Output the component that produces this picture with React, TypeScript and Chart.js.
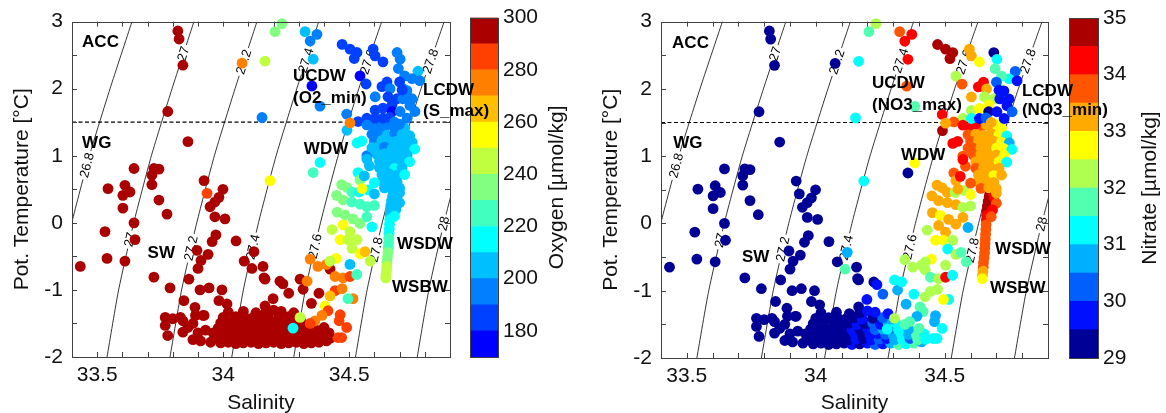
import React, { useEffect, useRef } from "react";
import { Chart, registerables } from "chart.js";
Chart.register(...registerables);

type Pt = [number, number, number, number]; // salinity, pot. temperature, oxygen, nitrate

const FONT = "'Liberation Sans', Arial, Helvetica, sans-serif";
const AXIS_COLOR = "#404040";
const TEXT_COLOR = "#111";

// ---------- data ----------
const surfaceWater: Pt[] = [
  [33.82, 2.86, 295, 29.2], [33.825, 2.74, 295, 29.2], [33.84, 2.35, 295, 29.3], [33.78, 1.66, 295, 29.3], [33.86, 1.21, 295, 29.2],
  [34.075, 2.38, 275, 29.3],
  [33.646, 0.81, 295, 29.2], [33.725, 0.81, 295, 29.2], [33.745, 0.8, 295, 29.2], [33.717, 0.71, 295, 29.2], [33.717, 0.57, 295, 29.2],
  [33.543, 0.51, 295, 29.2], [33.61, 0.56, 295, 29.2], [33.602, 0.41, 295, 29.2], [33.63, 0.46, 295, 29.2], [33.602, 0.22, 295, 29.2],
  [33.745, 0.34, 295, 29.2], [33.777, 0.13, 295, 29.2], [33.646, 0.0, 295, 29.2], [33.531, -0.13, 295, 29.2], [33.65, -0.25, 295, 29.2],
  [33.539, -0.53, 295, 29.2], [33.61, -0.57, 295, 29.2], [33.433, -0.65, 295, 29.2], [33.725, -0.81, 295, 29.2], [33.789, -0.97, 295, 29.2],
];

const winterWater: Pt[] = [
  [33.924, 0.63, 295, 29.3], [33.936, 0.44, 285, 29.3], [33.999, 0.5, 295, 29.3], [33.983, 0.38, 295, 29.3], [33.967, 0.31, 295, 29.3],
  [33.948, 0.24, 295, 29.3], [33.967, 0.09, 295, 29.3], [34.007, 0.06, 295, 29.3], [33.971, -0.18, 295, 29.3], [33.956, -0.28, 295, 29.3],
  [34.051, -0.27, 295, 29.3], [33.896, -0.41, 295, 29.3], [33.94, -0.47, 295, 29.3], [33.912, -0.56, 295, 29.3], [33.9, -0.68, 295, 29.3],
  [33.864, -0.84, 295, 29.3], [34.122, -0.43, 295, 30.7], [34.083, -0.57, 295, 29.3], [34.114, -0.68, 295, 31.8], [34.162, -0.82, 295, 29.3],
  [33.908, -1.0, 295, 29.2], [33.944, -0.97, 295, 29.2], [33.995, -1.0, 295, 29.2], [33.983, -1.16, 295, 29.2], [34.015, -1.21, 295, 29.2],
  [33.844, -1.16, 295, 29.2], [33.888, -1.26, 295, 29.2], [33.924, -1.38, 295, 29.2], [34.166, -1.24, 295, 29.3],
];

const shelfWater: Pt[] = [
  [33.91, -1.76, 295, 29.2], [33.95, -1.78, 295, 29.2], [33.99, -1.79, 295, 29.2], [34.02, -1.78, 295, 29.2], [34.05, -1.8, 295, 29.2],
  [34.08, -1.79, 295, 29.2], [34.11, -1.78, 295, 29.2], [34.14, -1.8, 295, 29.7], [34.17, -1.79, 295, 29.2], [34.2, -1.78, 295, 29.7],
  [34.23, -1.8, 295, 30.2], [34.26, -1.79, 295, 29.7], [34.29, -1.78, 295, 30.7], [34.32, -1.8, 295, 31.8], [34.35, -1.79, 295, 31.2],
  [34.38, -1.78, 295, 31.8], [34.41, -1.76, 295, 30.7],
  [33.97, -1.72, 295, 29.2], [34.0, -1.71, 295, 29.2], [34.035, -1.73, 295, 29.2], [34.065, -1.72, 295, 29.2], [34.095, -1.71, 295, 29.2],
  [34.125, -1.73, 295, 29.2], [34.155, -1.72, 295, 29.7], [34.185, -1.71, 295, 29.2], [34.215, -1.73, 295, 29.7], [34.245, -1.72, 295, 30.2],
  [34.275, -1.71, 295, 29.7], [34.305, -1.73, 295, 30.7], [34.335, -1.72, 295, 31.2], [34.365, -1.71, 295, 30.2], [34.395, -1.73, 295, 31.8],
  [34.425, -1.72, 295, 31.2], [34.455, -1.71, 285, 31.2],
  [33.96, -1.64, 295, 29.2], [34.0, -1.65, 295, 29.2], [34.03, -1.66, 295, 29.2], [34.06, -1.64, 295, 29.2], [34.09, -1.65, 295, 29.2],
  [34.12, -1.66, 295, 29.2], [34.15, -1.64, 295, 29.7], [34.18, -1.65, 295, 29.2], [34.21, -1.66, 295, 29.7], [34.24, -1.64, 295, 29.7],
  [34.27, -1.65, 295, 30.2], [34.3, -1.66, 295, 30.7], [34.33, -1.64, 295, 31.2], [34.36, -1.65, 295, 30.7], [34.39, -1.66, 295, 31.8],
  [34.42, -1.64, 295, 31.2],
  [33.98, -1.57, 295, 29.2], [34.02, -1.56, 295, 29.2], [34.05, -1.58, 295, 29.2], [34.08, -1.57, 295, 29.2], [34.11, -1.56, 295, 29.2],
  [34.14, -1.58, 295, 29.7], [34.17, -1.57, 295, 29.2], [34.2, -1.56, 295, 29.7], [34.23, -1.58, 295, 30.2], [34.26, -1.57, 295, 30.7],
  [34.29, -1.56, 295, 30.2], [34.32, -1.58, 295, 31.2], [34.36, -1.57, 295, 30.7], [34.4, -1.56, 295, 31.8],
  [33.99, -1.49, 295, 29.2], [34.03, -1.48, 295, 29.2], [34.07, -1.5, 295, 29.2], [34.1, -1.49, 295, 29.2], [34.13, -1.48, 295, 29.2],
  [34.16, -1.5, 295, 29.7], [34.19, -1.49, 295, 29.2], [34.22, -1.48, 295, 30.2], [34.25, -1.5, 295, 29.7], [34.28, -1.49, 295, 30.7],
  [34.31, -1.48, 295, 31.2],
  [34.0, -1.41, 295, 29.2], [34.05, -1.4, 295, 29.2], [34.09, -1.42, 295, 29.2], [34.12, -1.41, 295, 29.2], [34.15, -1.4, 295, 29.2],
  [34.18, -1.42, 295, 29.7], [34.22, -1.41, 295, 29.2], [34.26, -1.4, 295, 30.2], [34.3, -1.42, 295, 30.7],
  [34.02, -1.33, 295, 29.2], [34.08, -1.32, 295, 29.2], [34.13, -1.34, 295, 29.2], [34.17, -1.33, 295, 29.2], [34.23, -1.32, 295, 29.7],
  [34.28, -1.34, 295, 29.7],
  [33.77, -1.41, 295, 29.2], [33.8, -1.43, 295, 29.2], [33.77, -1.53, 295, 29.2], [33.78, -1.68, 295, 29.2], [33.84, -1.46, 295, 29.2],
  [33.86, -1.56, 295, 29.2], [33.84, -1.63, 295, 29.2], [33.88, -1.74, 295, 29.2], [33.89, -1.38, 295, 29.2], [33.92, -1.38, 295, 29.2],
  [33.83, -1.41, 295, 29.2], [33.88, -1.5, 295, 29.2], [33.93, -1.6, 295, 29.2], [33.9, -1.64, 295, 29.2],
];

const mixedShelfWater: Pt[] = [
  [34.158, -0.65, 295, 29.2], [34.166, -0.84, 295, 29.2], [34.225, -0.87, 295, 29.2], [34.237, -0.91, 295, 29.7], [34.198, -1.13, 295, 29.7],
  [34.317, -0.99, 295, 30.7], [34.305, -0.84, 295, 31.2], [34.424, -0.69, 295, 32.3], [34.2, -1.3, 295, 29.7], [34.26, -1.05, 295, 30.2],
  [34.35, -1.2, 295, 30.7], [34.38, -1.05, 292, 31.2],
  [34.345, -0.54, 272, 32.3], [34.376, -0.65, 275, 32.3], [34.41, -0.62, 275, 32.3], [34.444, -0.8, 275, 31.8], [34.476, -0.82, 272, 32.3],
  [34.503, -0.8, 282, 34.2], [34.333, -0.87, 272, 31.2], [34.444, -1.01, 285, 32.3], [34.472, -0.98, 275, 32.3], [34.515, -1.13, 275, 31.2],
  [34.495, -1.13, 225, 32.9], [34.424, -1.09, 265, 32.3], [34.404, -1.24, 258, 31.8], [34.416, -1.31, 285, 31.8], [34.392, -1.38, 272, 30.7],
  [34.364, -1.46, 275, 31.8], [34.345, -1.5, 285, 31.8], [34.464, -1.37, 285, 30.7], [34.46, -1.46, 288, 30.7], [34.49, -1.56, 285, 31.2],
  [34.47, -1.71, 285, 31.2], [34.305, -1.41, 245, 32.3], [34.277, -1.57, 215, 31.2],
];

const deepMixing: Pt[] = [
  [34.49, 0.53, 238, 33.2], [34.51, 0.46, 225, 33.2], [34.54, 0.46, 215, 32.3], [34.575, 0.49, 215, 32.3], [34.6, 0.43, 205, 32.8],
  [34.45, 0.41, 238, 33.2], [34.476, 0.34, 238, 33.2], [34.51, 0.31, 225, 33.2], [34.543, 0.28, 225, 33.2], [34.57, 0.24, 225, 32.3],
  [34.6, 0.26, 225, 32.3], [34.452, 0.16, 238, 33.2], [34.483, 0.12, 238, 32.8], [34.515, 0.06, 235, 33.2], [34.543, -0.01, 235, 33.2],
  [34.57, 0.09, 225, 33.2], [34.59, -0.06, 215, 30.7], [34.476, -0.03, 255, 33.2], [34.432, -0.1, 245, 32.3], [34.503, -0.13, 245, 33.2],
  [34.464, -0.25, 255, 32.8], [34.495, -0.25, 247, 32.8], [34.531, -0.25, 247, 32.3], [34.511, -0.38, 247, 31.2], [34.543, -0.46, 258, 32.3],
  [34.563, -0.43, 262, 31.8], [34.583, -0.57, 247, 31.8], [34.503, -0.62, 205, 32.3], [34.448, -0.53, 258, 32.8], [34.424, -0.57, 247, 32.3],
  [34.53, -0.77, 225, 31.2],
  [34.384, 0.9, 215, 32.8], [34.357, 0.75, 225, 29.2], [34.186, 0.63, 258, 31.2], [34.535, 0.75, 218, 33.7], [34.543, 0.64, 235, 33.2],
  [34.47, 0.57, 238, 33.2], [34.551, 0.51, 255, 33.2],
];

const bottomWaterColumn: Pt[] = [
  [34.675, 0.45, 205, 34.6], [34.672, 0.4, 205, 34.6], [34.668, 0.33, 205, 34.7], [34.665, 0.26, 205, 34.7], [34.663, 0.19, 205, 34.6],
  [34.662, 0.12, 208, 34.2], [34.661, 0.05, 212, 34.2], [34.66, -0.02, 215, 33.7], [34.659, -0.09, 215, 33.7], [34.658, -0.16, 218, 33.7],
  [34.657, -0.23, 222, 33.7], [34.656, -0.3, 225, 33.7], [34.655, -0.37, 228, 33.7], [34.654, -0.44, 232, 33.7], [34.652, -0.51, 236, 33.7],
  [34.65, -0.58, 238, 33.7], [34.649, -0.65, 243, 33.7], [34.648, -0.71, 246, 33.2], [34.646, -0.77, 247, 33.2], [34.645, -0.82, 247, 32.8],
  [34.69, 0.4, 205, 34.2], [34.7, 0.3, 205, 33.7], [34.685, 0.2, 205, 34.2], [34.68, 0.1, 210, 33.7], [34.7, 0.45, 205, 33.2],
];

const warmDeepWater: Pt[] = [
  [34.6, 1.42, 195, 34.2], [34.64, 1.43, 195, 33.7], [34.68, 1.42, 195, 33.2], [34.72, 1.41, 200, 32.8],
  [34.59, 1.32, 195, 33.7], [34.62, 1.33, 195, 33.2], [34.65, 1.31, 202, 33.2], [34.68, 1.33, 195, 33.2], [34.71, 1.32, 202, 32.8], [34.74, 1.3, 205, 31.2],
  [34.6, 1.22, 195, 33.7], [34.63, 1.23, 202, 33.2], [34.66, 1.21, 205, 33.2], [34.69, 1.22, 202, 33.2], [34.72, 1.21, 205, 32.8], [34.75, 1.2, 205, 30.7],
  [34.61, 1.12, 202, 33.7], [34.64, 1.13, 195, 33.2], [34.67, 1.11, 205, 33.2], [34.7, 1.12, 205, 32.8], [34.73, 1.11, 205, 32.8], [34.76, 1.1, 210, 31.2],
  [34.61, 1.02, 205, 33.7], [34.64, 1.03, 205, 33.2], [34.67, 1.01, 202, 33.2], [34.7, 1.02, 205, 33.2], [34.73, 1.01, 205, 32.8],
  [34.62, 0.92, 205, 33.2], [34.65, 0.93, 205, 33.2], [34.68, 0.91, 205, 33.2], [34.71, 0.92, 205, 32.8], [34.74, 0.91, 210, 31.2],
  [34.62, 0.82, 205, 33.7], [34.65, 0.83, 205, 33.2], [34.68, 0.81, 210, 33.2], [34.71, 0.82, 205, 33.2],
  [34.63, 0.72, 205, 33.2], [34.66, 0.73, 205, 33.2], [34.69, 0.71, 205, 32.8], [34.72, 0.72, 210, 33.2],
  [34.63, 0.62, 205, 33.2], [34.66, 0.63, 208, 33.2], [34.69, 0.61, 205, 33.2],
  [34.64, 0.52, 205, 33.7], [34.67, 0.53, 205, 33.2], [34.7, 0.52, 208, 33.2],
  [34.58, 0.85, 205, 33.7], [34.56, 0.7, 205, 34.2], [34.57, 1.0, 195, 33.7], [34.55, 1.22, 215, 34.2], [34.59, 1.12, 202, 33.7],
  [34.6, 0.6, 210, 33.7], [34.57, 0.95, 202, 34.2],
  [34.62, 1.48, 195, 34.2], [34.66, 1.47, 190, 33.2], [34.7, 1.47, 195, 32.8],
];

const circumpolarDeepWater: Pt[] = [
  [34.233, 2.97, 236, 32.3], [34.206, 2.85, 234, 31.8], [34.166, 2.41, 246, 31.2], [34.154, 1.57, 198, 31.2],
  [34.325, 2.85, 205, 33.7], [34.372, 2.81, 195, 34.2], [34.345, 2.71, 195, 34.2], [34.357, 2.44, 205, 34.2], [34.352, 2.04, 178, 33.7],
  [34.384, 1.74, 198, 31.8], [34.472, 2.66, 185, 34.8], [34.503, 2.59, 182, 34.8], [34.531, 2.54, 182, 34.8], [34.52, 2.45, 182, 34.8],
  [34.595, 2.59, 182, 33.3], [34.603, 2.49, 182, 33.3], [34.634, 2.4, 182, 32.8], [34.543, 2.19, 178, 32.3], [34.69, 2.54, 192, 29.2],
  [34.702, 2.44, 192, 31.2], [34.695, 2.3, 190, 31.8], [34.773, 2.26, 205, 30.2], [34.749, 2.15, 195, 31.2], [34.78, 2.12, 195, 29.8],
  [34.65, 2.1, 180, 34.2], [34.63, 2.03, 180, 34.2], [34.662, 2.0, 190, 33.3], [34.713, 2.0, 192, 32.3], [34.729, 1.97, 192, 29.8],
  [34.603, 1.88, 195, 33.3], [34.654, 1.88, 180, 32.3], [34.69, 1.85, 180, 32.3], [34.67, 1.76, 180, 32.8], [34.749, 1.85, 195, 29.8],
  [34.741, 1.75, 195, 29.8], [34.761, 1.66, 195, 30.2], [34.713, 1.85, 192, 29.7], [34.603, 1.68, 180, 32.3], [34.634, 1.71, 180, 32.8],
  [34.67, 1.66, 178, 29.2], [34.702, 1.66, 192, 29.8], [34.57, 1.56, 180, 32.3], [34.603, 1.56, 180, 31.2], [34.634, 1.56, 180, 29.8],
  [34.535, 1.51, 180, 33.7], [34.57, 1.46, 195, 34.2], [34.491, 1.38, 205, 34.7], [34.531, 1.19, 215, 34.2], [34.49, 1.62, 195, 34.2],
  [34.73, 1.56, 195, 29.8], [34.66, 1.57, 180, 30.2], [34.68, 1.5, 190, 33.2], [34.567, 2.07, 180, 33.7], [34.72, 2.19, 195, 31.8],
  [34.7, 2.1, 182, 30.2], [34.71, 1.98, 182, 29.7], [34.503, 1.49, 275, 33.3],
];

const stations: Pt[] = [
  ...surfaceWater, ...winterWater, ...shelfWater, ...mixedShelfWater,
  ...deepMixing, ...bottomWaterColumn, ...warmDeepWater, ...circumpolarDeepWater,
];

// isopycnals (sigma-theta): [salinity, temperature]
const isoLevels = ["26.8", "27", "27.2", "27.4", "27.6", "27.8", "28"];
const iso268 = [[33.293, -2], [33.339, -1], [33.399, 0], [33.469, 1], [33.551, 2], [33.638, 3]];
const iso270 = [[33.539, -2], [33.585, -1], [33.645, 0], [33.715, 1], [33.797, 2], [33.884, 3]];
const iso272 = [[33.789, -2], [33.835, -1], [33.895, 0], [33.965, 1], [34.047, 2], [34.134, 3]];
const iso274 = [[34.034, -2], [34.08, -1], [34.14, 0], [34.21, 1], [34.292, 2], [34.379, 3]];
const iso276 = [[34.28, -2], [34.326, -1], [34.386, 0], [34.456, 1], [34.538, 2], [34.629, 3]];
const iso278 = [[34.525, -2], [34.571, -1], [34.631, 0], [34.701, 1], [34.785, 2], [34.877, 3]];
const iso280 = [[34.77, -2], [34.816, -1], [34.876, 0], [34.946, 1], [35.03, 2], [35.12, 3]];
const isoLines = [iso268, iso270, iso272, iso274, iso276, iso278, iso280];
// contour label spots: [level index, temperature]
const isoLabelSpots: [number, number][] = [
  [0, 0.86], [1, 2.52], [1, -0.25], [2, 2.4], [2, -0.38], [3, 2.42], [3, -0.36],
  [4, 2.4], [4, -0.35], [5, 2.41], [5, -0.4], [6, -0.01],
];
const dividerTemp = 1.5;

const salRange = [33.4, 34.9];
const tempRange = [-2, 3];

// colour bars
const oxyEdges = [170, 180, 190, 200, 210, 220, 230, 240, 250, 260, 270, 280, 290, 300];
const oxyColors = ["#0000ff", "#0040ff", "#0080ff", "#00bfff", "#00ffff", "#40ffbf", "#80ff80", "#bfff40", "#ffff00", "#ffbf00", "#ff8000", "#ff4000", "#aa0000"];
const oxyTicks = [180, 200, 220, 240, 260, 280, 300];
const nitEdges = [29, 29.5, 30, 30.5, 31, 31.5, 32, 32.5, 33, 33.5, 34, 34.5, 35];
const nitColors = ["#000096", "#0010ff", "#0060ff", "#00b0ff", "#00ffff", "#50ffaf", "#afff50", "#ffff00", "#ffaa00", "#ff5500", "#ff0000", "#aa0000"];
const nitTicks = [29, 30, 31, 32, 33, 34, 35];

const oxyNotes: [string, number, number][] = [
  ["ACC", 33.44, 2.69], ["WG", 33.44, 1.19], ["UCDW", 34.277, 2.19], ["(O2_min)", 34.277, 1.85],
  ["LCDW", 34.793, 1.97], ["(S_max)", 34.793, 1.66], ["WDW", 34.32, 1.09], ["WSDW", 34.69, -0.32],
  ["WSBW", 34.67, -0.96], ["SW", 33.7, -0.46],
];
const nitNotes: [string, number, number][] = [
  ["ACC", 33.443, 2.68], ["WG", 33.447, 1.19], ["UCDW", 34.218, 2.09], ["(NO3_max)", 34.218, 1.76],
  ["LCDW", 34.799, 1.97], ["(NO3_min)", 34.799, 1.68], ["WDW", 34.33, 1.01], ["WSDW", 34.695, -0.38],
  ["WSBW", 34.675, -0.97], ["SW", 33.714, -0.5],
];

// ---------- helpers ----------
function bandColor(v: number, edges: number[], colors: string[]) {
  for (let i = 0; i < colors.length; i++) if (v < edges[i + 1]) return colors[i];
  return colors[colors.length - 1];
}

function panelPlugin(notes: [string, number, number][]) {
  return {
    id: "panelDeco",
    beforeDatasetDraw(chart: any, args: any) {
      if (args.index !== 0) return;
      const { ctx } = chart;
      const xs = chart.scales.x, ys = chart.scales.y;
      ctx.save();
      ctx.font = `13px ${FONT}`;
      ctx.textAlign = "center";
      ctx.textBaseline = "middle";
      for (const [li, t] of isoLabelSpots) {
        const line = isoLines[li];
        let k = 0;
        while (k < line.length - 2 && line[k + 1][1] < t) k++;
        const [s1, t1] = line[k];
        const [s2, t2] = line[k + 1];
        const f = (t - t1) / (t2 - t1);
        const s = s1 + (s2 - s1) * f;
        const px = xs.getPixelForValue(s), py = ys.getPixelForValue(t);
        const ang = Math.atan2(ys.getPixelForValue(t2) - ys.getPixelForValue(t1), xs.getPixelForValue(s2) - xs.getPixelForValue(s1));
        const txt = isoLevels[li];
        const w = ctx.measureText(txt).width;
        ctx.save();
        ctx.translate(px, py);
        ctx.rotate(ang);
        ctx.fillStyle = "#fff";
        ctx.fillRect(-w / 2 - 2, -5.5, w + 4, 11);
        ctx.fillStyle = "#000";
        ctx.fillText(txt, 0, 0.5);
        ctx.restore();
      }
      ctx.restore();
    },
    afterDatasetsDraw(chart: any) {
      const { ctx, chartArea } = chart;
      const { left, right, top, bottom } = chartArea;
      const xs = chart.scales.x, ys = chart.scales.y;
      ctx.save();
      ctx.strokeStyle = AXIS_COLOR;
      ctx.lineWidth = 1;
      ctx.beginPath();
      for (const tk of xs.ticks) {
        const px = Math.round(xs.getPixelForValue(tk.value)) + 0.5;
        if (px <= left + 1 || px >= right - 1) continue;
        ctx.moveTo(px, bottom); ctx.lineTo(px, bottom - 5);
        ctx.moveTo(px, top); ctx.lineTo(px, top + 5);
      }
      for (const tk of ys.ticks) {
        const py = Math.round(ys.getPixelForValue(tk.value)) + 0.5;
        if (py <= top + 1 || py >= bottom - 1) continue;
        ctx.moveTo(left, py); ctx.lineTo(left + 5, py);
        ctx.moveTo(right, py); ctx.lineTo(right - 5, py);
      }
      ctx.stroke();
      ctx.strokeRect(Math.round(left) + 0.5, Math.round(top) + 0.5, Math.round(right - left), Math.round(bottom - top));
      ctx.fillStyle = "#000";
      ctx.font = `bold 17px ${FONT}`;
      ctx.textAlign = "left";
      ctx.textBaseline = "middle";
      for (const [txt, s, t] of notes) {
        ctx.fillText(txt, xs.getPixelForValue(s), ys.getPixelForValue(t));
      }
      ctx.restore();
    },
  };
}

function scatterConfig(colorOf: (p: Pt) => string, notes: [string, number, number][], top: number, bottom: number, height: number, padRight: number): any {
  const lineSets = isoLines.map((ln) => ({
    data: ln.map(([s, t]) => ({ x: s, y: t })),
    showLine: true,
    borderColor: "#000",
    borderWidth: 0.8,
    pointRadius: 0,
    tension: 0.2,
    order: 2,
  }));
  return {
    type: "scatter",
    data: {
      datasets: [
        {
          data: stations.map((p) => ({ x: p[0], y: p[1] })),
          pointRadius: 5.4,
          pointBorderWidth: 0,
          pointBackgroundColor: stations.map(colorOf),
          pointBorderColor: stations.map(colorOf),
          clip: false,
          order: 0,
        },
        {
          data: [{ x: salRange[0], y: dividerTemp }, { x: salRange[1], y: dividerTemp }],
          showLine: true,
          borderColor: "#000",
          borderWidth: 1.2,
          borderDash: [4, 2.5],
          pointRadius: 0,
          order: 1,
        },
        ...lineSets,
      ],
    },
    options: {
      responsive: false,
      animation: false,
      events: [],
      layout: { padding: { left: 0, right: padRight, top, bottom: 0 } },
      plugins: { legend: { display: false }, tooltip: { enabled: false } },
      scales: {
        x: {
          type: "linear",
          min: salRange[0],
          max: salRange[1],
          grid: { display: false, drawTicks: false },
          border: { display: false },
          ticks: {
            stepSize: 0.1,
            autoSkip: false,
            maxRotation: 0,
            padding: 6,
            color: TEXT_COLOR,
            font: { family: FONT, size: 21 },
            callback: (v: number) => (Math.abs(v * 2 - Math.round(v * 2)) < 1e-6 ? String(Math.round(v * 10) / 10) : ""),
          },
          title: { display: true, text: "Salinity", color: TEXT_COLOR, font: { family: FONT, size: 21 }, padding: { top: 0, bottom: 4 } },
          afterFit: (s: any) => { s.height = height - bottom; },
        },
        y: {
          type: "linear",
          min: tempRange[0],
          max: tempRange[1],
          grid: { display: false, drawTicks: false },
          border: { display: false },
          ticks: {
            stepSize: 0.5,
            autoSkip: false,
            padding: 9,
            color: TEXT_COLOR,
            font: { family: FONT, size: 21 },
            callback: (v: number) => (Math.abs(v - Math.round(v)) < 1e-6 ? String(Math.round(v)) : ""),
          },
          title: { display: true, text: "Pot. Temperature [°C]", color: TEXT_COLOR, font: { family: FONT, size: 21 }, padding: { top: 10, bottom: 0 } },
          afterFit: (s: any) => { s.width = 72; },
        },
      },
    },
    plugins: [panelPlugin(notes)],
  };
}

function colorbarConfig(edges: number[], colors: string[], ticks: number[], title: string, padLeft: number, axisWidth: number, top: number, bottom: number, height: number, titleX: number): any {
  return {
    type: "bar",
    data: {
      labels: [""],
      datasets: colors.map((c, i) => ({
        data: [[edges[i], edges[i + 1]]],
        backgroundColor: c,
        borderWidth: 0,
        barPercentage: 1,
        categoryPercentage: 1,
        grouped: false,
      })),
    },
    options: {
      responsive: false,
      animation: false,
      events: [],
      layout: { padding: { left: padLeft, right: 0, top, bottom: height - bottom } },
      plugins: { legend: { display: false }, tooltip: { enabled: false } },
      scales: {
        x: { display: false },
        y: {
          position: "right",
          min: edges[0],
          max: edges[edges.length - 1],
          grid: { display: false, drawTicks: false },
          border: { display: false },
          afterBuildTicks: (s: any) => { s.ticks = ticks.map((v) => ({ value: v })); },
          ticks: { padding: 5, color: TEXT_COLOR, font: { family: FONT, size: 21 }, callback: (v: number) => String(v) },
          afterFit: (s: any) => { s.width = axisWidth; },
        },
      },
    },
    plugins: [
      {
        id: "cbDeco",
        afterDraw(chart: any) {
          const { ctx, chartArea } = chart;
          const { left, right, top: t, bottom: b } = chartArea;
          ctx.save();
          ctx.strokeStyle = AXIS_COLOR;
          ctx.lineWidth = 1;
          ctx.strokeRect(Math.round(left) + 0.5, Math.round(t) + 0.5, Math.round(right - left), Math.round(b - t));
          ctx.translate(titleX, (t + b) / 2);
          ctx.rotate(-Math.PI / 2);
          ctx.fillStyle = TEXT_COLOR;
          ctx.font = `21px ${FONT}`;
          ctx.textAlign = "center";
          ctx.textBaseline = "middle";
          ctx.fillText(title, 0, 0);
          ctx.restore();
        },
      },
    ],
  };
}

export default function App() {
  const cb1 = useRef<HTMLCanvasElement>(null);
  const cb2 = useRef<HTMLCanvasElement>(null);
  const sc1 = useRef<HTMLCanvasElement>(null);
  const sc2 = useRef<HTMLCanvasElement>(null);

  useEffect(() => {
    const charts = [
      new Chart(cb1.current!, colorbarConfig(oxyEdges, oxyColors, oxyTicks, "Oxygen [µmol/kg]", 10, 91, 17, 357, 420, 97)),
      new Chart(cb2.current!, colorbarConfig(nitEdges, nitColors, nitTicks, "Nitrate [µmol/kg]", 19, 68, 18, 358, 420, 100)),
      new Chart(sc1.current!, scatterConfig((p) => bandColor(p[2], oxyEdges, oxyColors), oxyNotes, 17, 357, 420, 60)),
      new Chart(sc2.current!, scatterConfig((p) => bandColor(p[3], nitEdges, nitColors), nitNotes, 18, 358, 420, 118)),
    ];
    return () => charts.forEach((c) => c.destroy());
  }, []);

  const abs = (left: number): React.CSSProperties => ({ position: "absolute", left, top: 0 });
  return (
    <div style={{ position: "absolute", left: 0, top: 0, width: 1166, height: 413, overflow: "hidden", background: "#fff" }}>
      <canvas ref={cb1} width={129} height={420} style={abs(460)} />
      <canvas ref={cb2} width={116} height={420} style={abs(1050)} />
      <canvas ref={sc1} width={510} height={420} style={abs(0)} />
      <canvas ref={sc2} width={577} height={420} style={abs(589)} />
    </div>
  );
}
